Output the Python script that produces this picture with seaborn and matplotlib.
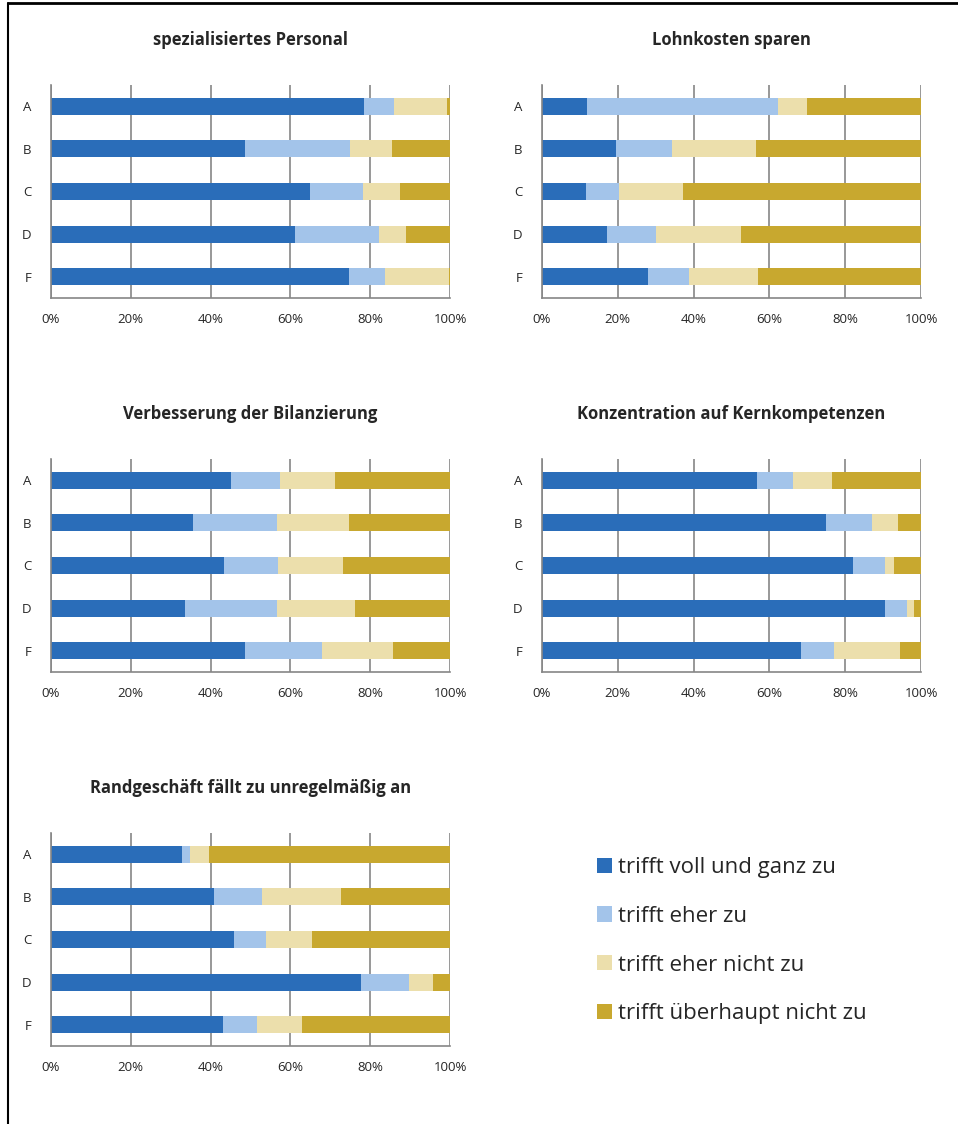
import numpy as np
import pandas as pd
import matplotlib.pyplot as plt
import seaborn as sns
from matplotlib.patches import Patch
from matplotlib.lines import Line2D

# Kategorien (Zeilen) und Antwortstufen
categories = ["A", "B", "C", "D", "F"]
answers = [
    "trifft voll und ganz zu",
    "trifft eher zu",
    "trifft eher nicht zu",
    "trifft überhaupt nicht zu",
]
colors = ["#2A6DB9", "#A3C4EA", "#ECDFAC", "#C8A82F"]

titles = [
    "spezialisiertes Personal",
    "Lohnkosten sparen",
    "Verbesserung der Bilanzierung",
    "Konzentration auf Kernkompetenzen",
    "Randgeschäft fällt zu unregelmäßig an",
]

# Anteile in Prozent (A, B, C, D, F)
personal_voll = [78.4, 48.6, 64.9, 61.1, 74.7]
personal_eher = [7.5, 26.4, 13.3, 21.1, 8.9]
personal_eher_nicht = [13.3, 10.4, 9.2, 6.8, 16.1]
personal_nicht = [0.8, 14.6, 12.6, 11.0, 0.3]

lohn_voll = [12.0, 19.6, 11.5, 17.1, 28.1]
lohn_eher = [50.2, 14.6, 8.9, 12.9, 10.8]
lohn_eher_nicht = [7.7, 22.2, 16.9, 22.6, 18.1]
lohn_nicht = [30.1, 43.6, 62.7, 47.4, 43.0]

bilanz_voll = [45.1, 35.5, 43.3, 33.6, 48.6]
bilanz_eher = [12.3, 21.1, 13.6, 23.0, 19.3]
bilanz_eher_nicht = [13.8, 18.0, 16.3, 19.7, 17.7]
bilanz_nicht = [28.8, 25.4, 26.8, 23.7, 14.4]

kern_voll = [56.7, 75.0, 82.0, 90.5, 68.4]
kern_eher = [9.6, 12.2, 8.5, 5.8, 8.6]
kern_eher_nicht = [10.2, 6.7, 2.4, 1.8, 17.5]
kern_nicht = [23.5, 6.1, 7.1, 1.9, 5.5]

rand_voll = [32.8, 40.9, 45.8, 77.6, 43.1]
rand_eher = [2.0, 11.9, 8.0, 12.1, 8.5]
rand_eher_nicht = [4.8, 19.9, 11.7, 6.0, 11.4]
rand_nicht = [60.4, 27.3, 34.5, 4.3, 37.0]

panels = [
    [personal_voll, personal_eher, personal_eher_nicht, personal_nicht],
    [lohn_voll, lohn_eher, lohn_eher_nicht, lohn_nicht],
    [bilanz_voll, bilanz_eher, bilanz_eher_nicht, bilanz_nicht],
    [kern_voll, kern_eher, kern_eher_nicht, kern_nicht],
    [rand_voll, rand_eher, rand_eher_nicht, rand_nicht],
]

sns.set_style("white")
plt.rcParams["font.family"] = ["Open Sans", "DejaVu Sans"]

W, H = 958, 1124
fig = plt.figure(figsize=(W / 100, H / 100), dpi=100)

# Achsen-Rechtecke in Pixeln: links, oben, rechts, unten
boxes = [
    (51, 85, 450, 298),
    (542, 85, 921, 298),
    (51, 459, 450, 672),
    (542, 459, 921, 672),
    (51, 833, 450, 1046),
]

grid_color = "#868686"

for title, values, (x0, y0, x1, y1) in zip(titles, panels, boxes):
    ax = fig.add_axes([x0 / W, 1 - y1 / H, (x1 - x0) / W, (y1 - y0) / H])
    df = pd.DataFrame(np.array(values).T, columns=answers)
    df["Kategorie"] = categories
    cum = df[answers].cumsum(axis=1)

    # gestapelte Balken: kumulierte Summen von hinten nach vorne zeichnen
    for i in range(len(answers) - 1, -1, -1):
        sns.barplot(
            x=cum[answers[i]],
            y=df["Kategorie"],
            orient="h",
            order=categories,
            color=colors[i],
            saturation=1,
            width=0.4,
            errorbar=None,
            linewidth=0,
            ax=ax,
            zorder=2,
        )

    ax.set_xlim(0, 100)
    ax.set_ylim(4.5, -0.5)
    ax.set_xticks(range(0, 101, 20))
    ax.set_xticklabels([f"{v}%" for v in range(0, 101, 20)])
    ax.set_xlabel("")
    ax.set_ylabel("")
    ax.xaxis.grid(True, color=grid_color, linewidth=1.2, zorder=0)
    ax.set_axisbelow(True)

    for side in ["top", "right"]:
        ax.spines[side].set_visible(False)
    for side in ["left", "bottom"]:
        ax.spines[side].set_color(grid_color)
        ax.spines[side].set_linewidth(1.2)

    ax.tick_params(axis="x", direction="out", length=4, width=1.2,
                   color=grid_color, labelsize=9.5, pad=7)
    ax.tick_params(axis="y", which="major", length=0, labelsize=9.5, pad=14)
    ax.set_yticks(np.arange(-0.5, 5, 1), minor=True)
    ax.tick_params(axis="y", which="minor", direction="out", length=4,
                   width=1.2, color=grid_color)

    ax.text(0.5, 1 + 45 / (y1 - y0), title, transform=ax.transAxes,
            ha="center", va="center", fontsize=12, fontweight="bold")

# Legende
handles = [Patch(facecolor=c, edgecolor="none") for c in colors]
fig.legend(
    handles, answers,
    loc="upper left",
    bbox_to_anchor=(597 / W, 1 - 857 / H),
    frameon=False,
    fontsize=16,
    handlelength=0.68,
    handleheight=0.68,
    handletextpad=0.28,
    labelspacing=1.25,
    borderpad=0,
    borderaxespad=0,
)

# Rahmenlinien links und oben
fig.add_artist(Line2D([8 / W, 8 / W], [0, 1 - 3 / H], color="black", linewidth=1.5))
fig.add_artist(Line2D([8 / W, 1], [1 - 3 / H, 1 - 3 / H], color="black", linewidth=2))

fig.savefig("out.png", dpi=100)
